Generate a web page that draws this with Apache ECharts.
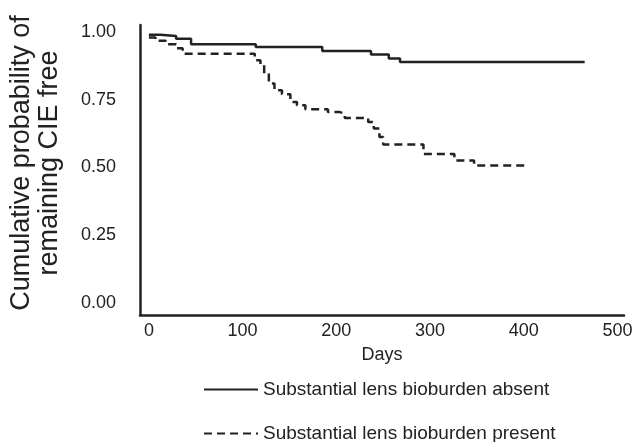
<!DOCTYPE html>
<html>
<head>
<meta charset="utf-8">
<script src="https://cdn.jsdelivr.net/npm/echarts@6/dist/echarts.min.js"></script>
<style>html,body{margin:0;padding:0;background:#fff}#c{width:636px;height:442px}</style>
</head>
<body>
<div id="c"></div>
<script>
const xTicks = [0, 100, 200, 300, 400, 500];
const yTicks = [0, 0.25, 0.5, 0.75, 1.0];
const absentDays = [0, 12, 29, 45, 114, 185, 237, 256, 268, 465];
const absentSurv = [0.99, 0.985, 0.975, 0.955, 0.945, 0.93, 0.917, 0.902, 0.889, 0.889];
const presentDays = [0, 7, 18, 29, 36, 113, 119, 123, 128, 134, 142, 151, 158, 167, 191, 203, 209, 234, 240, 246, 250, 293, 326, 347, 404];
const presentSurv = [0.98, 0.968, 0.955, 0.94, 0.92, 0.896, 0.88, 0.848, 0.81, 0.785, 0.77, 0.742, 0.73, 0.715, 0.705, 0.699, 0.683, 0.668, 0.644, 0.612, 0.585, 0.55, 0.526, 0.507, 0.507];
const seriesNames = ['Substantial lens bioburden absent', 'Substantial lens bioburden present'];

const font = 'Liberation Sans, Arial, sans-serif';
const legendCommon = {
  orient: 'horizontal', left: 198, itemWidth: 54, itemHeight: 14, itemGap: 10,
  itemStyle: {opacity: 0},
  textStyle: {fontFamily: font, fontSize: 19, color: '#222', padding: [5, 0, 0, 0]}
};
const chart = echarts.init(document.getElementById('c'), null, {renderer: 'canvas'});
chart.setOption({
  animation: false,
  backgroundColor: '#fff',
  grid: {left: 137, right: 12, top: 25, bottom: 127, containLabel: false},
  xAxis: {
    type: 'value', min: -9.5, max: 507,
    name: 'Days', nameLocation: 'middle', nameGap: 31,
    nameTextStyle: {fontFamily: font, fontSize: 18, color: '#222'},
    axisLine: {onZero: false, lineStyle: {color: '#222', width: 2.5}},
    axisTick: {show: false},
    splitLine: {show: false},
    axisLabel: {customValues: xTicks, fontFamily: font, fontSize: 18, color: '#222', margin: 7, showMinLabel: true, showMaxLabel: true}
  },
  yAxis: {
    type: 'value', min: -0.045, max: 1.026,
    name: 'Cumulative probability of\nremaining CIE free', nameLocation: 'middle', nameGap: 76, nameRotate: 90,
    nameTextStyle: {fontFamily: font, fontSize: 27, color: '#222', lineHeight: 28, padding: [0, 0, 0, 14]},
    axisLine: {onZero: false, lineStyle: {color: '#222', width: 2.5}},
    axisTick: {show: false},
    splitLine: {show: false},
    axisLabel: {customValues: yTicks, formatter: v => v.toFixed(2), fontFamily: font, fontSize: 18, color: '#222', margin: 24}
  },
  legend: [
    Object.assign({}, legendCommon, {top: 375, data: [seriesNames[0]]}),
    Object.assign({}, legendCommon, {top: 419, data: [seriesNames[1]]})
  ],
  series: [
    {
      name: seriesNames[0], type: 'line', step: 'end', symbol: 'none',
      data: absentDays.map((d, i) => [d, absentSurv[i]]),
      lineStyle: {color: '#222', width: 2.5, type: 'solid'},
      itemStyle: {color: '#222'}
    },
    {
      name: seriesNames[1], type: 'line', step: 'end', symbol: 'none',
      data: presentDays.map((d, i) => [d, presentSurv[i]]),
      lineStyle: {color: '#222', width: 2.5, type: [8, 5]},
      itemStyle: {color: '#222'}
    }
  ]
});
</script>
</body>
</html>
